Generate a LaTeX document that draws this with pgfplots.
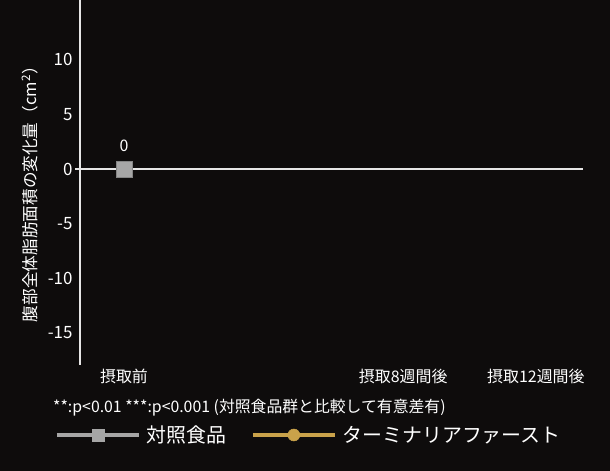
\documentclass[border=0pt]{standalone}
\usepackage{fontspec}
\setmainfont{Noto Sans CJK JP}
\usepackage{pgfplots}
\pgfplotsset{compat=1.18}
\definecolor{bg}{HTML}{0E0C0C}
\definecolor{ctrl}{HTML}{A6A6A6}
\definecolor{tf}{HTML}{C9A24A}
\definecolor{axw}{HTML}{E6E6E6}

\begin{document}
\begin{tikzpicture}[x=1bp,y=1bp]
\fill[bg] (0,0) rectangle (610,471);
\path[use as bounding box] (0,0) rectangle (610,471);
\begin{axis}[
    at={(80bp,106bp)}, anchor=south west,
    scale only axis, width=503bp, height=365bp,
    xmin=-1.26, xmax=13.15,
    ymin=-17.93, ymax=15.46,
    axis y line*=left, axis x line*=bottom,
    x axis line style={draw=none},
    y axis line style={axw, line width=2bp, -},
    xtick={0,8,11.8},
    xticklabels={摂取前,摂取8週間後,摂取12週間後},
    ytick={-15,-10,-5,0,5,10},
    major tick length=0pt,
    tick label style={white},
    xticklabel style={font=\fontsize{16}{18}\selectfont, yshift=-1bp},
    yticklabel style={font=\fontsize{17}{19}\selectfont, xshift=-4bp},
    /pgf/number format/assume math mode=true,
    ylabel={腹部全体脂肪面積の変化量（cm\textsuperscript{2}）},
    ylabel style={white, font=\fontsize{16.7}{18}\selectfont,
        at={(axis description cs:-0.1,0.479)}, anchor=center},
    clip=false,
    legend style={at={(axis description cs:-0.0497,-0.1918)}, anchor=west,
        draw=none, fill=none, text=white, inner sep=0pt,
        font=\fontsize{20}{22}\selectfont,
        /tikz/every odd column/.append style={column sep=4bp},
        /tikz/every even column/.append style={column sep=23bp}},
    legend columns=2,
    legend cell align=left,
    legend image code/.code={
        \draw[#1, mark repeat=2, mark phase=2]
        plot coordinates {(0bp,0bp) (41bp,0bp) (82bp,0bp)};},
]
% zero line
\addplot[axw, line width=2bp, forget plot] coordinates {(-1.40,0) (13.15,0)};

% control food, only the baseline point
\addplot[ctrl, mark=square*, mark size=8bp,
    mark options={fill=ctrl, draw=ctrl!80!black, line width=0.6bp},
    point meta=y, nodes near coords,
    every node near coord/.append style={white, anchor=center, yshift=23bp,
        font=\fontsize{16}{18}\selectfont},
    forget plot] coordinates {(0,0)};

\addlegendimage{ctrl, line width=3.3bp, mark=square*, mark size=6bp,
    mark options={line width=0.5bp}}
\addlegendentry{対照食品}
\addlegendimage{tf, line width=3.3bp, mark=*, mark size=6bp,
    mark options={line width=0.5bp}}
\addlegendentry{ターミナリアファースト}
\end{axis}
\node[anchor=west, white, inner sep=0pt, font=\fontsize{15.9}{17}\selectfont]
    at (53,63) {**:p<0.01 ***:p<0.001 (対照食品群と比較して有意差有)};
\end{tikzpicture}
\end{document}
